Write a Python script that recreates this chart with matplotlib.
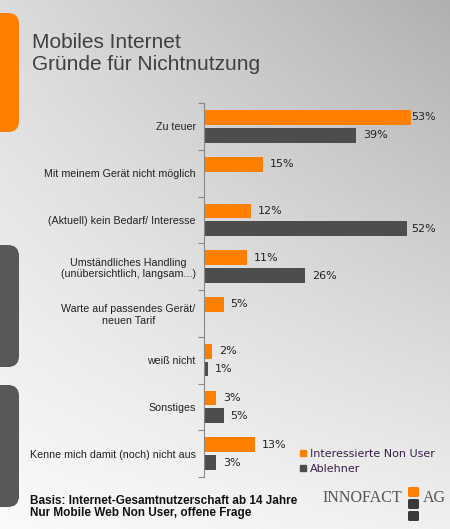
import numpy as np
import matplotlib
matplotlib.use('Agg')
import matplotlib.pyplot as plt
from matplotlib.patches import FancyBboxPatch
from matplotlib.lines import Line2D

categories = ['Zu teuer',
              'Mit meinem Gerät nicht möglich',
              '(Aktuell) kein Bedarf/ Interesse',
              'Umständliches Handling\n(unübersichtlich, langsam...)',
              'Warte auf passendes Gerät/\nneuen Tarif',
              'weiß nicht',
              'Sonstiges',
              'Kenne mich damit (noch) nicht aus']
interessierte = [53, 15, 12, 11, 5, 2, 3, 13]
ablehner = [39, np.nan, 52, 26, np.nan, 1, 5, 3]
series_names = ['Interessierte Non User', 'Ablehner']

ORANGE = '#ff7f00'
DARK = '#4d4d4d'
W, H = 450, 529

fig = plt.figure(figsize=(W/100, H/100), dpi=100)

# background + decoration, in pixel coords
bg = fig.add_axes([0, 0, 1, 1], zorder=0)
bg.set_xlim(0, W)
bg.set_ylim(H, 0)
bg.axis('off')
xx, yy = np.meshgrid(np.linspace(0, 1, 200), np.linspace(0, 1, 200))
# corner greys: top-left, top-right, bottom-left, bottom-right
tl, tr, bl, br = 0.86, 0.69, 0.98, 0.94
shade = tl*(1-xx)*(1-yy) + tr*xx*(1-yy) + bl*(1-xx)*yy + br*xx*yy
bg.imshow(shade, cmap='gray', vmin=0, vmax=1, extent=(0, W, H, 0), aspect='auto')

def side_bar(y0, y1, color):
    bg.add_patch(FancyBboxPatch((-20, y0), 39, y1 - y0, boxstyle='round,pad=0,rounding_size=11',
                                fc=color, ec='none'))

side_bar(13, 132, ORANGE)
side_bar(245, 367, '#5a5856')
side_bar(385, 507, '#5a5856')

fig.text(32/W, 1 - 54/H, 'Mobiles Internet\nGründe für Nichtnutzung', family='Liberation Sans',
         fontsize=15, color='#404040', va='center', ha='left', linespacing=1.2)

fig.text(30/W, 1 - 507/H, 'Basis: Internet-Gesamtnutzerschaft ab 14 Jahre\nNur Mobile Web Non User, offene Frage',
         family='Liberation Sans', fontsize=8.5, fontweight='bold', color='#111111',
         va='center', ha='left', linespacing=1.05)

# logo
fig.text(322/W, 1 - 498/H, 'INNOFACT', family='Liberation Serif', fontsize=11.5, color='#555555',
         va='center', ha='left')
fig.text(423/W, 1 - 498/H, 'AG', family='Liberation Serif', fontsize=11.5, color='#555555',
         va='center', ha='left')
bg.add_patch(FancyBboxPatch((408, 487), 11, 10, boxstyle='round,pad=0,rounding_size=1.5', fc=ORANGE, ec='none'))
bg.add_patch(FancyBboxPatch((408, 499), 11, 10, boxstyle='round,pad=0,rounding_size=1.5', fc='#3a3a3a', ec='none'))
bg.add_patch(FancyBboxPatch((408, 511), 11, 10, boxstyle='round,pad=0,rounding_size=1.5', fc='#3a3a3a', ec='none'))

# chart
ax = fig.add_axes([204/W, 1 - 477/H, 234/W, 374/H], zorder=1)
ax.patch.set_alpha(0)
y = np.arange(len(categories))
off = 0.19
h = 0.315
ax.barh(y - off, interessierte, height=h, color=ORANGE)
ax.barh(y + off, ablehner, height=h, color=DARK)
ax.set_xlim(0, 60)
ax.set_ylim(len(categories) - 0.5, -0.5)

for vals, dy in [(interessierte, -off), (ablehner, off)]:
    for i, v in enumerate(vals):
        if np.isnan(v):
            continue
        ax.text(min(v + 1.8, 53.2), i + dy, '%d%%' % v, fontsize=8, color='#222222',
                va='center', ha='left', clip_on=False)

for s in ['top', 'right', 'bottom']:
    ax.spines[s].set_visible(False)
ax.spines['left'].set_color('#888888')
ax.set_xticks([])
ax.set_yticks(np.arange(len(categories) + 1) - 0.5)
ax.set_yticklabels([])
ax.tick_params(axis='y', which='major', length=4, color='#888888', direction='out')
ax.set_yticks(y, minor=True)
ax.set_yticklabels(categories, minor=True, fontsize=7.7, family='Liberation Sans',
                   color='#222222', multialignment='center')
ax.tick_params(axis='y', which='minor', length=0, pad=6)

handles = [Line2D([], [], marker='s', ls='none', color=ORANGE, markersize=4.5),
           Line2D([], [], marker='s', ls='none', color=DARK, markersize=4.5)]
fig.legend(handles, series_names, loc='upper left', bbox_to_anchor=(294/W, 1 - 443/H),
           frameon=False, fontsize=8, labelcolor='#3a1f48', handlelength=0.6,
           handletextpad=0.35, labelspacing=0.45, borderpad=0)

fig.savefig('out.png', dpi=100)
